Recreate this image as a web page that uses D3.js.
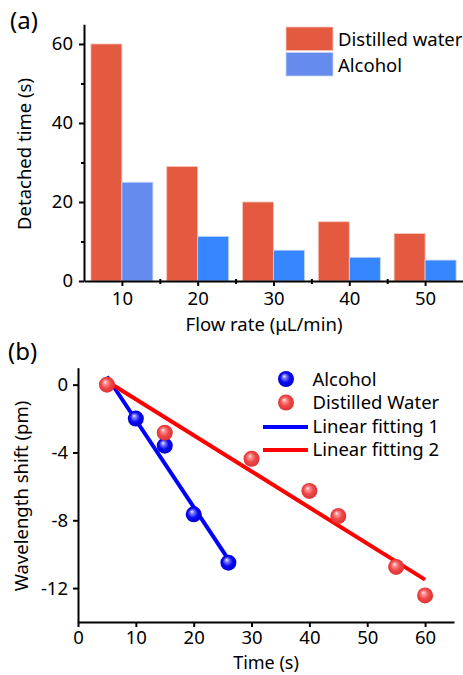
<!DOCTYPE html>
<meta charset="utf-8">
<style>
body { margin: 0; background: #fff; }
text { font-family: "Noto Sans", sans-serif; fill: #000; }
.axis path, .axis line { stroke: #000; stroke-width: 2px; }
</style>
<svg width="463" height="675"></svg>
<script src="https://cdn.jsdelivr.net/npm/d3@7"></script>
<script>

// panel (a) data
var flowRates = [10, 20, 30, 40, 50];
var waterTimes = [60, 29, 20, 15, 12];
var alcoholTimes = [25, 11.3, 7.8, 6.0, 5.3];
var alcoholColors = ["#658BEE", "#3686FF", "#3686FF", "#3686FF", "#3686FF"];
var yTicksA = [0, 20, 40, 60];

// panel (b) data
var alcoholT = [10, 15, 20, 26];
var alcoholShift = [-2.0, -3.6, -7.65, -10.5];
var waterT = [5, 15, 30, 40, 45, 55, 60];
var waterShift = [0, -2.83, -4.37, -6.27, -7.75, -10.75, -12.43];
var fit1 = [[5, 0.48], [26, -10.3]];
var fit2 = [[5, 0.2], [60, -11.5]];
var xTicksB = [0, 10, 20, 30, 40, 50, 60];
var yTicksB = [0, -4, -8, -12];

var fs = "18.5px";
var svg = d3.select("svg");

// sphere gradients
var defs = svg.append("defs");
function ballGrad(id, hi, mid, edge) {
  var g = defs.append("radialGradient").attr("id", id)
    .attr("cx", "50%").attr("cy", "50%").attr("r", "55%")
    .attr("fx", "38%").attr("fy", "32%");
  g.append("stop").attr("offset", "0%").attr("stop-color", "#fff");
  g.append("stop").attr("offset", "18%").attr("stop-color", hi);
  g.append("stop").attr("offset", "55%").attr("stop-color", mid);
  g.append("stop").attr("offset", "100%").attr("stop-color", edge);
}
ballGrad("gBlue", "#8a8aff", "#0a0af5", "#0000c8");
ballGrad("gRed", "#ff9a9a", "#f04848", "#d83030");

// ---------- panel (a) ----------
var xa = d3.scaleLinear().domain([5, 55]).range([84, 463]);
var ya = d3.scaleLinear().domain([0, 65]).range([281, 24.2]);
var barW = 31;

var ga = svg.append("g");

ga.selectAll("rect.water").data(flowRates).enter().append("rect")
  .attr("x", function(d) { return xa(d) - barW; })
  .attr("y", function(d, i) { return ya(waterTimes[i]); })
  .attr("width", barW)
  .attr("height", function(d, i) { return ya(0) - ya(waterTimes[i]); })
  .attr("fill", "#E45A41")
  .attr("stroke", "#f7c7bd").attr("stroke-width", 0.8);

ga.selectAll("rect.alc").data(flowRates).enter().append("rect")
  .attr("x", function(d) { return xa(d); })
  .attr("y", function(d, i) { return ya(alcoholTimes[i]); })
  .attr("width", barW)
  .attr("height", function(d, i) { return ya(0) - ya(alcoholTimes[i]); })
  .attr("fill", function(d, i) { return alcoholColors[i]; })
  .attr("stroke", "#c5d6fb").attr("stroke-width", 0.8);

// y axis
ga.append("g").attr("class", "axis")
  .attr("transform", "translate(84,0)")
  .call(d3.axisLeft(ya).tickValues([10, 30, 50]).tickSize(3).tickFormat(""))
  .call(function(g) { g.select(".domain").remove(); });
ga.append("g").attr("class", "axis")
  .attr("transform", "translate(84,0)")
  .call(d3.axisLeft(ya).tickValues(yTicksA).tickSize(5).tickSizeOuter(0).tickPadding(6))
  .call(function(g) { g.selectAll("text").style("font-size", fs); });

// x axis
ga.append("g").attr("class", "axis")
  .attr("transform", "translate(0,281)")
  .call(d3.axisBottom(xa).tickValues([15, 25, 35, 45]).tickSize(3).tickFormat(""))
  .call(function(g) { g.select(".domain").remove(); g.selectAll("line").attr("y1", -2); });
ga.append("g").attr("class", "axis")
  .attr("transform", "translate(0,281)")
  .call(d3.axisBottom(xa).tickValues(flowRates).tickSize(5).tickSizeOuter(0).tickPadding(6))
  .call(function(g) { g.selectAll("text").style("font-size", fs); });

ga.append("text").attr("x", 264).attr("y", 331).attr("text-anchor", "middle")
  .style("font-size", fs).text("Flow rate (\u03bcL/min)");
ga.append("text").attr("transform", "translate(31,154) rotate(-90)")
  .attr("text-anchor", "middle").style("font-size", fs).text("Detached time (s)");
ga.append("text").attr("x", 10).attr("y", 29).style("font-size", "24px").text("(a)");

// legend (a)
var legA = [["Distilled water", "#E45A41"], ["Alcohol", "#658BEE"]];
legA.forEach(function(d, i) {
  ga.append("rect").attr("x", 286).attr("y", 27 + i * 25.5).attr("width", 47).attr("height", 23.5)
    .attr("fill", d[1]).attr("stroke", i ? "#c5d6fb" : "#f7c7bd").attr("stroke-width", 0.8);
  ga.append("text").attr("x", 338).attr("y", 45.5 + i * 26).style("font-size", fs).text(d[0]);
});

// ---------- panel (b) ----------
var xb = d3.scaleLinear().domain([0, 65]).range([78, 454]);
var yb = d3.scaleLinear().domain([-14, 1]).range([622, 367.7]);
var gb = svg.append("g");

gb.append("g").attr("class", "axis")
  .attr("transform", "translate(78,0)")
  .call(d3.axisLeft(yb).tickValues(yTicksB).tickSize(5).tickSizeOuter(0).tickPadding(5)
    .tickFormat(function(d) { return String(d); }))
  .call(function(g) { g.selectAll("text").style("font-size", fs); });
gb.append("g").attr("class", "axis")
  .attr("transform", "translate(0,622)")
  .call(d3.axisBottom(xb).tickValues(xTicksB).tickSize(5).tickSizeOuter(0).tickPadding(4))
  .call(function(g) { g.selectAll("text").style("font-size", fs); });

var line = d3.line().x(function(d) { return xb(d[0]); }).y(function(d) { return yb(d[1]); });
gb.append("path").datum(fit1).attr("d", line).attr("stroke", "#0000ff")
  .attr("stroke-width", 4).attr("fill", "none");
gb.append("path").datum(fit2).attr("d", line).attr("stroke", "#ff0000")
  .attr("stroke-width", 4).attr("fill", "none");

gb.selectAll("circle.alc").data(alcoholT).enter().append("circle")
  .attr("cx", function(d) { return xb(d); })
  .attr("cy", function(d, i) { return yb(alcoholShift[i]); })
  .attr("r", 8).attr("fill", "url(#gBlue)");
gb.selectAll("circle.wat").data(waterT).enter().append("circle")
  .attr("cx", function(d) { return xb(d); })
  .attr("cy", function(d, i) { return yb(waterShift[i]); })
  .attr("r", 8).attr("fill", "url(#gRed)");

gb.append("text").attr("x", 266).attr("y", 669).attr("text-anchor", "middle")
  .style("font-size", "18px").text("Time (s)");
gb.append("text").attr("transform", "translate(28,496) rotate(-90)")
  .attr("text-anchor", "middle").style("font-size", fs).text("Wavelength shift (pm)");
gb.append("text").attr("x", 8).attr("y", 360).style("font-size", "24px").text("(b)");

// legend (b)
gb.append("circle").attr("cx", 286).attr("cy", 379).attr("r", 8).attr("fill", "url(#gBlue)");
gb.append("circle").attr("cx", 286).attr("cy", 402.5).attr("r", 8).attr("fill", "url(#gRed)");
gb.append("line").attr("x1", 263).attr("x2", 308).attr("y1", 427).attr("y2", 427)
  .attr("stroke", "#0000ff").attr("stroke-width", 4);
gb.append("line").attr("x1", 263).attr("x2", 308).attr("y1", 450).attr("y2", 450)
  .attr("stroke", "#ff0000").attr("stroke-width", 4);
var legB = ["Alcohol", "Distilled Water", "Linear fitting 1", "Linear fitting 2"];
legB.forEach(function(d, i) {
  gb.append("text").attr("x", 312.5).attr("y", 385.5 + i * 23.5).style("font-size", fs).text(d);
});

</script>
